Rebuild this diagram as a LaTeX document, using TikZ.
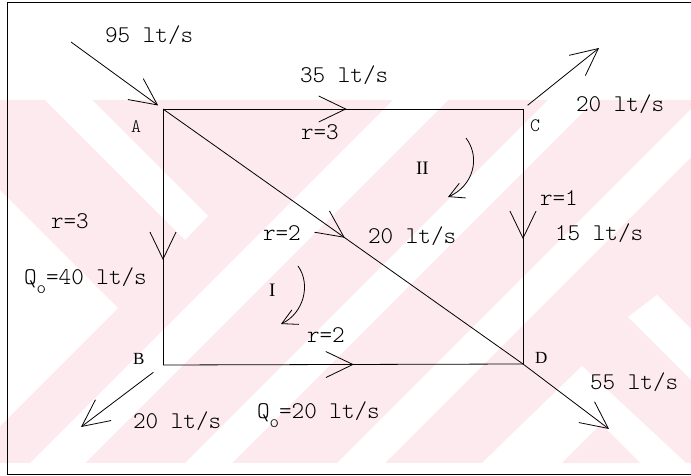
\documentclass[tikz,border=0pt]{standalone}
\usepackage{fontspec}
\setmainfont{Latin Modern Mono Light}
\newfontfamily\serifletters{Liberation Serif}
\usetikzlibrary{arrows.meta,decorations.markings}

\definecolor{wmpink}{RGB}{253,234,238}

\tikzset{
  pipe/.style={line width=0.8pt, black},
  barbtip/.tip={Straight Barb[length=27pt, width=26pt, line width=0.8pt]},
  loopbarb/.tip={Straight Barb[length=15pt, width=16pt, line width=0.8pt]},
  flowmark/.style={postaction={decorate},
    decoration={markings, mark=at position #1 with {\arrow{barbtip}}}},
  lbl/.style={anchor=base west, inner sep=0pt, outer sep=0pt,
    font=\fontsize{24}{28}\selectfont},
  corner/.style={anchor=base west, inner sep=0pt, outer sep=0pt,
    font=\fontsize{19}{22}\selectfont},
  numeral/.style={anchor=base west, inner sep=0pt, outer sep=0pt,
    font=\serifletters\fontsize{19}{22}\selectfont},
}

\newcommand{\Qsub}{Q\raisebox{-0.4em}{\fontsize{18}{18}\selectfont o}}

\begin{document}
\begin{tikzpicture}[x=1pt, y=-1pt]
\useasboundingbox (0,0) rectangle (691,476);

% background band with white chevron stripes
\begin{scope}
  \clip (0,100) rectangle (691,463);
  \fill[wmpink] (0,100) rectangle (691,463);
  \fill[white] (45,100) -- (92,100) -- (208,216) -- (185,240) -- cycle;
  \fill[white] (0,190) -- (118,308) -- (0,426) -- cycle;
  \fill[white] (393,100) -- (448,100) -- (85,463) -- (30,463) -- cycle;
  \fill[white] (548,100) -- (595,100) -- (232,463) -- (185,463) -- cycle;
  \fill[white] (700,100) -- (748,100) -- (385,463) -- (337,463) -- cycle;
  \fill[white] (482,463) -- (582,366) -- (686,463) -- cycle;
  \fill[wmpink] (562,463) -- (601,424) -- (640,463) -- cycle;
  \fill[white] (657,295) -- (691,329) -- (691,380) -- (628,317) -- cycle;
\end{scope}

% frame
\draw[line width=0.7pt] (691,2) -- (7,2) -- (7,474) -- (691,474);

% junctions
\coordinate (A) at (163,109);
\coordinate (C) at (523,109);
\coordinate (B) at (163,365);
\coordinate (D) at (523,364);

% free ends of supply and demand arrows
\coordinate (inA)  at (71,42);
\coordinate (outC) at (599,48);
\coordinate (outB) at (81,427);
\coordinate (outD) at (609,429);

% pipes with flow directions
\draw[pipe, flowmark=0.51]  (A) -- (C);
\draw[pipe, flowmark=0.59]  (A) -- (B);
\draw[pipe, flowmark=0.51]  (C) -- (D);
\draw[pipe, flowmark=0.53]  (B) -- (D);
\draw[pipe, flowmark=0.505] (A) -- (D);

% inflow and outflows
\draw[pipe, -{barbtip}, shorten >=6pt] (inA) -- (A);
\draw[pipe, -{barbtip}, shorten <=6pt] (C) -- (outC);
\draw[pipe, -{barbtip}, shorten <=12pt] (B) -- (outB);
\draw[pipe, -{barbtip}] (D) -- (outD);

% loop directions
\coordinate (IIs) at (466,138);
\coordinate (IIe) at (448,197);
\coordinate (Is)  at (298,266);
\coordinate (Ie)  at (281,324);
\draw[pipe, -{loopbarb}] (IIs) .. controls (481,158) and (473,186) .. (IIe);
\draw[pipe, -{loopbarb}] (Is) .. controls (311,284) and (304,313) .. (Ie);

% junction letters
\node[corner] (lA) at (131,133) {A};
\node[corner] (lC) at (530,132) {C};
\node[numeral, font=\serifletters\fontsize{17}{20}\selectfont] (lB) at (133,364) {B};
\node[numeral, font=\serifletters\fontsize{17}{20}\selectfont] (lD) at (535,363) {D};
\node[numeral] (lII) at (416,175) {II};
\node[numeral] (lI)  at (269,296) {I};

% flows and resistances
\node[lbl] (q95)  at (105,43)  {95 lt/s};
\node[lbl] (q35)  at (300,83)  {35 lt/s};
\node[lbl] (qC)   at (576,112) {20 lt/s};
\node[lbl] (rAC)  at (301,140) {r=3};
\node[lbl] (rCD)  at (540,205) {r=1};
\node[lbl] (qCD)  at (555,240) {15 lt/s};
\node[lbl] (rAD)  at (263,240) {r=2};
\node[lbl] (qAD)  at (368,243) {20 lt/s};
\node[lbl] (rAB)  at (51,228)  {r=3};
\node[lbl] (qAB)  at (24,284)  {\Qsub=40 lt/s};
\node[lbl] (rBD)  at (307,342) {r=2};
\node[lbl] (qB)   at (133,428) {20 lt/s};
\node[lbl] (qBD)  at (257,418) {\Qsub=20 lt/s};
\node[lbl] (qD)   at (590,389) {55 lt/s};
\end{tikzpicture}
\end{document}
